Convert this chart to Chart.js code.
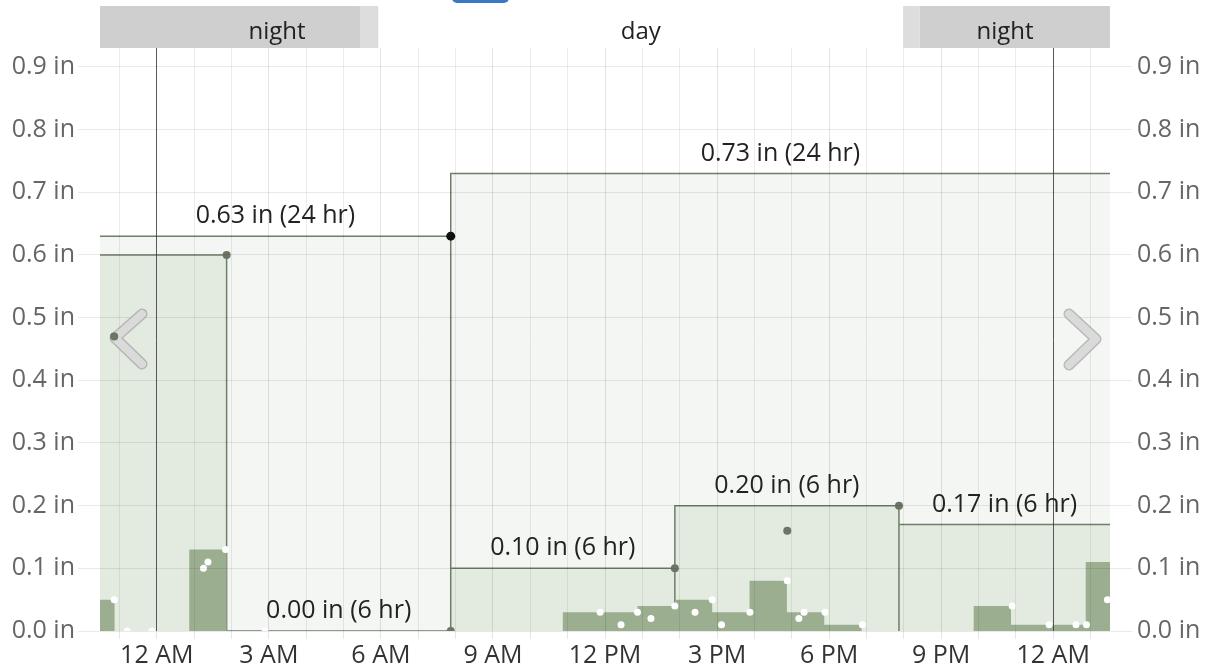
<!DOCTYPE html>
<html>
<head>
<meta charset="utf-8">
<script src="https://cdn.jsdelivr.net/npm/chart.js@4.4.1/dist/chart.umd.min.js"></script>
<style>
  html, body { margin: 0; padding: 0; background: #fff; }
  #wrap { position: relative; width: 1208px; height: 671px; overflow: hidden; }
  #nowTab { position: absolute; left: 452px; top: -7px; width: 57px; height: 10px; background: #3a78c3; border-radius: 5px; }
</style>
</head>
<body>
<div id="wrap">
  <canvas id="rainChart" width="1208" height="671"></canvas>
  <div id="nowTab"></div>
</div>
<script>
// --- Data (x values are hours from the first midnight shown) ---
const xMin = -1.52;
const xMax = 25.52;

const dayStarts = [-16.13, 7.87];
const dayRain = [0.63, 0.73];

const sixStarts = [-4.13, 1.87, 7.87, 13.87, 19.87];
const sixRain = [0.60, 0.00, 0.10, 0.20, 0.17];

const hourStart = -2.13;
const hourlyRain = [0.05, 0, 0, 0.13,
  0, 0, 0, 0, 0, 0, 0, 0, 0,
  0.03, 0.03, 0.04, 0.05, 0.03, 0.08, 0.03, 0.01,
  0, 0, 0,
  0.04, 0.01, 0.01, 0.11];

// readings inside each hour
const readX = [-1.14, -0.79, -0.13, 1.25, 1.37, 1.84, 2.90,
  11.87, 12.43, 12.87, 13.23, 13.87, 14.41, 14.87, 15.12, 15.88,
  16.88, 17.19, 17.33, 17.89, 18.89,
  22.90, 23.89, 24.61, 24.89, 25.45];
const readY = [0.05, 0, 0, 0.10, 0.11, 0.13, 0,
  0.03, 0.01, 0.03, 0.02, 0.04, 0.03, 0.05, 0.01, 0.03,
  0.08, 0.02, 0.03, 0.03, 0.01,
  0.04, 0.01, 0.01, 0.01, 0.05];

const markX = [1.87, 7.87, 13.87, 19.87, -1.14, 16.88];
const markY = [0.60, 0.00, 0.10, 0.20, 0.47, 0.16];
const totalX = [7.87];
const totalY = [0.63];

const tickHours = [0, 3, 6, 9, 12, 15, 18, 21, 24];
const tickLabels = ['12 AM', '3 AM', '6 AM', '9 AM', '12 PM', '3 PM', '6 PM', '9 PM', '12 AM'];
const yTicks = [0, 0.1, 0.2, 0.3, 0.4, 0.5, 0.6, 0.7, 0.8, 0.9];

const nightBands = [[xMin, 5.44], [20.43, xMax]];
const twilightBands = [[5.44, 5.93], [19.98, 20.43]];
const bandNames = ['night', 'day', 'night'];
const bandNameAt = [3.22, 12.96, 22.71];

const FONT = '"Segoe UI", "Open Sans", sans-serif';
const LINE = '#6f7d69';

// --- Helpers ---
function blocks(starts, vals, len) {
  const pts = [];
  starts.forEach((s, i) => {
    pts.push({ x: s, y: 0 }, { x: s, y: vals[i] }, { x: s + len, y: vals[i] }, { x: s + len, y: 0 });
  });
  return pts;
}
const zip = (xs, ys) => xs.map((x, i) => ({ x: x, y: ys[i] }));
const hourStarts = hourlyRain.map((v, i) => hourStart + i);

// --- Plugins ---
const headerBands = {
  id: 'headerBands',
  afterDraw(chart) {
    const { ctx, scales: { x } } = chart;
    const top = 6, h = 42;
    ctx.save();
    ctx.fillStyle = '#cfcfcf';
    nightBands.forEach(b => ctx.fillRect(x.getPixelForValue(b[0]), top, x.getPixelForValue(b[1]) - x.getPixelForValue(b[0]), h));
    ctx.fillStyle = '#dddddd';
    twilightBands.forEach(b => ctx.fillRect(x.getPixelForValue(b[0]), top, x.getPixelForValue(b[1]) - x.getPixelForValue(b[0]), h));
    ctx.fillStyle = '#222';
    ctx.font = '24px ' + FONT;
    ctx.textAlign = 'center';
    ctx.textBaseline = 'middle';
    bandNames.forEach((n, i) => ctx.fillText(n, x.getPixelForValue(bandNameAt[i]), 32));
    ctx.restore();
  }
};

function chevron(ctx, pts) {
  ctx.save();
  ctx.lineCap = 'round';
  ctx.lineJoin = 'round';
  ctx.beginPath();
  ctx.moveTo(pts[0][0], pts[0][1]);
  ctx.lineTo(pts[1][0], pts[1][1]);
  ctx.lineTo(pts[2][0], pts[2][1]);
  ctx.strokeStyle = 'rgba(160,160,160,0.7)';
  ctx.lineWidth = 11;
  ctx.stroke();
  ctx.strokeStyle = '#dadada';
  ctx.lineWidth = 8;
  ctx.stroke();
  ctx.restore();
}

const navArrows = {
  id: 'navArrows',
  afterDraw(chart) {
    const ctx = chart.ctx;
    chevron(ctx, [[142, 314], [115, 338], [142, 364]]);
    chevron(ctx, [[1069, 314], [1096, 339], [1069, 365]]);
    // the marker sitting on the left arrow stays on top
    const { x, y } = chart.scales;
    ctx.save();
    ctx.fillStyle = '#6a7565';
    ctx.beginPath();
    ctx.arc(x.getPixelForValue(markX[4]), y.getPixelForValue(markY[4]), 4, 0, Math.PI * 2);
    ctx.fill();
    ctx.restore();
  }
};

const blockLabels = {
  id: 'blockLabels',
  afterDraw(chart) {
    const { ctx, chartArea, scales: { x, y } } = chart;
    ctx.save();
    ctx.font = '25px ' + FONT;
    ctx.fillStyle = '#222';
    ctx.textAlign = 'center';
    ctx.textBaseline = 'middle';
    const put = (starts, vals, len, tag) => {
      starts.forEach((s, i) => {
        const a = x.getPixelForValue(Math.max(s, xMin));
        const b = x.getPixelForValue(Math.min(s + len, xMax));
        const txt = vals[i].toFixed(2) + ' in (' + tag + ')';
        const w = ctx.measureText(txt).width;
        const cx = (a + b) / 2;
        if (cx - w / 2 < chartArea.left || cx + w / 2 > chartArea.right) return;
        ctx.fillText(txt, cx, y.getPixelForValue(vals[i]) - 20);
      });
    };
    put(dayStarts, dayRain, 24, '24 hr');
    put(sixStarts, sixRain, 6, '6 hr');
    ctx.restore();
  }
};

// --- Chart ---
const ctx = document.getElementById('rainChart').getContext('2d');
new Chart(ctx, {
  type: 'line',
  data: {
    datasets: [
      { type: 'scatter', data: zip(totalX, totalY), pointRadius: 4.5, pointBackgroundColor: '#111', pointBorderWidth: 0 },
      { type: 'scatter', data: zip(markX, markY), pointRadius: 4, pointBackgroundColor: '#6a7565', pointBorderWidth: 0 },
      { type: 'scatter', data: zip(readX, readY), pointRadius: 3.5, pointBackgroundColor: '#ffffff', pointBorderWidth: 0 },
      { data: blocks(hourStarts, hourlyRain, 1), borderWidth: 0, borderColor: 'rgba(0,0,0,0)', backgroundColor: '#9bae8f', fill: 'origin', pointRadius: 0 },
      { data: blocks(sixStarts, sixRain, 6), borderWidth: 1.5, borderColor: LINE, backgroundColor: '#e3ebe0', fill: 'origin', pointRadius: 0 },
      { data: blocks(dayStarts, dayRain, 24), borderWidth: 1.5, borderColor: LINE, backgroundColor: '#f4f6f3', fill: 'origin', pointRadius: 0 }
    ]
  },
  options: {
    responsive: false,
    animation: false,
    events: [],
    layout: { padding: { top: 48, left: 0, right: 0, bottom: 0 } },
    plugins: { legend: { display: false }, tooltip: { enabled: false } },
    elements: { line: { tension: 0 } },
    scales: {
      x: {
        type: 'linear',
        min: xMin,
        max: xMax,
        afterFit: s => { s.height = 40; },
        afterBuildTicks: s => {
          const t = [];
          for (let h = Math.ceil(xMin); h <= Math.floor(xMax); h++) t.push({ value: h });
          s.ticks = t;
        },
        border: { display: false },
        grid: {
          z: 1,
          color: c => {
            const v = c.tick ? c.tick.value : 1;
            if (v % 24 === 0) return 'rgba(60,60,60,0.85)';
            return v % 3 === 0 ? 'rgba(0,0,0,0.11)' : 'rgba(0,0,0,0.075)';
          },
          tickColor: 'rgba(0,0,0,0.1)',
          tickLength: 8
        },
        ticks: {
          autoSkip: false,
          maxRotation: 0,
          padding: 2,
          color: '#333',
          font: { family: FONT, size: 25 },
          callback: v => {
            const i = tickHours.indexOf(v);
            return i >= 0 ? tickLabels[i] : '';
          }
        }
      },
      y: {
        position: 'left',
        min: 0,
        max: 0.9303,
        afterFit: s => { s.width = 100; },
        afterBuildTicks: s => { s.ticks = yTicks.map(v => ({ value: v })); },
        border: { display: false },
        grid: { z: 1, color: 'rgba(0,0,0,0.085)', tickColor: 'rgba(0,0,0,0.085)', tickLength: 22 },
        ticks: { padding: 3, color: '#666', font: { family: FONT, size: 25 }, callback: v => v.toFixed(1) + ' in' }
      },
      y2: {
        position: 'right',
        min: 0,
        max: 0.9303,
        afterFit: s => { s.width = 98; },
        afterBuildTicks: s => { s.ticks = yTicks.map(v => ({ value: v })); },
        border: { display: false },
        grid: { drawOnChartArea: false, tickColor: 'rgba(0,0,0,0.085)', tickLength: 22 },
        ticks: { padding: 5, color: '#666', font: { family: FONT, size: 25 }, callback: v => v.toFixed(1) + ' in' }
      }
    }
  },
  plugins: [headerBands, navArrows, blockLabels]
});
</script>
</body>
</html>
